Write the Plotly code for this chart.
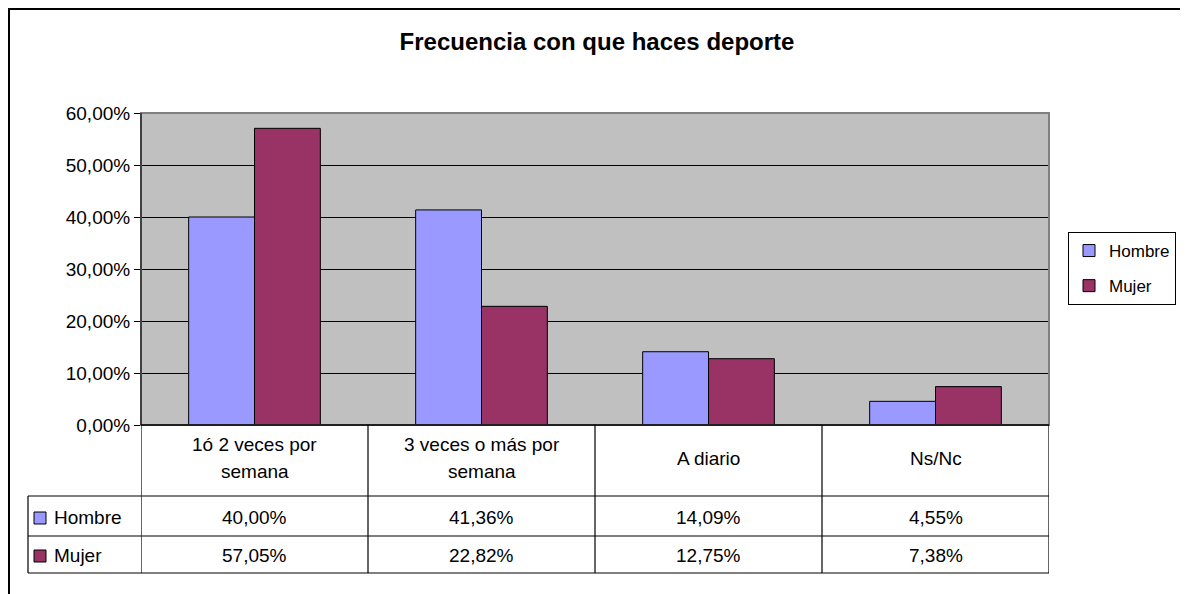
import plotly.graph_objects as go

categories = ["1ó 2 veces por\nsemana", "3 veces o más por\nsemana", "A diario", "Ns/Nc"]
series_names = ["Hombre", "Mujer"]
hombre = [0.4000, 0.4136, 0.1409, 0.0455]
mujer = [0.5705, 0.2282, 0.1275, 0.0738]
colors = ["#9999FF", "#993366"]
y_ticks = [0, 0.1, 0.2, 0.3, 0.4, 0.5, 0.6]

FONT = "Liberation Sans, Arial, sans-serif"
FS = 19
OFF = 8  # page body margin
W, H = 1188 - OFF, 594 - OFF
L, R, T, B = 141 - OFF, 1049 - OFF, 113 - OFF, 425 - OFF  # plot area pixels


def px(xpix):
    return (xpix - OFF - L) / (R - L)


def py(ypix):
    return (B - (ypix - OFF)) / (B - T)


xs = list(range(len(categories)))
values = [hombre, mujer]

fig = go.Figure()
for name, vals, col in zip(series_names, values, colors):
    fig.add_trace(go.Bar(
        x=xs, y=vals, name=name, legendgroup=name,
        marker=dict(color=col, line=dict(color="black", width=1)),
    ))

shapes = []
annotations = []

# outer frame (left + top edges)
shapes.append(dict(type="rect", xref="paper", yref="paper",
                   x0=px(OFF + 1), x1=px(1400), y0=py(800), y1=py(OFF + 1),
                   line=dict(color="black", width=2), layer="below"))
# plot area border
shapes.append(dict(type="rect", xref="paper", yref="paper",
                   x0=0, x1=1, y0=0, y1=1,
                   line=dict(color="#808080", width=2), layer="above"))
shapes.append(dict(type="line", xref="paper", yref="paper",
                   x0=0, x1=0, y0=0, y1=1,
                   line=dict(color="#404040", width=2), layer="above"))

# data table lines
shapes.append(dict(type="line", xref="paper", yref="paper",
                   x0=0, x1=1, y0=0, y1=0,
                   line=dict(color="black", width=1.5)))
row_lines = [496, 536, 573]
for yp in row_lines:
    shapes.append(dict(type="line", xref="paper", yref="paper",
                       x0=px(28), x1=1, y0=py(yp), y1=py(yp),
                       line=dict(color="black", width=1.2)))
for i in range(len(categories) + 1):
    shapes.append(dict(type="line", xref="x", yref="paper",
                       x0=i - 0.5, x1=i - 0.5, y0=0, y1=py(573),
                       line=dict(color="black", width=1.2)))
shapes.append(dict(type="line", xref="paper", yref="paper",
                   x0=px(28), x1=px(28), y0=py(496), y1=py(573),
                   line=dict(color="black", width=1.2)))

# category headers
for i, cat in enumerate(categories):
    lines = cat.split("\n")
    if len(lines) == 1:
        centers = [458]
    else:
        centers = [444, 471]
    for ln, cy in zip(lines, centers):
        annotations.append(dict(xref="x", yref="paper", x=i, y=py(cy),
                                text=ln, showarrow=False, xanchor="center",
                                yanchor="middle",
                                font=dict(family=FONT, size=FS, color="black")))

# value rows
row_centers = [517, 555]
for name, vals, col, cy in zip(series_names, values, colors, row_centers):
    shapes.append(dict(type="rect", xref="paper", yref="paper",
                       x0=px(34), x1=px(46), y0=py(cy + 7), y1=py(cy - 5),
                       fillcolor=col, line=dict(color="black", width=1)))
    annotations.append(dict(xref="paper", yref="paper", x=px(52), y=py(cy),
                            text=name, showarrow=False, xanchor="left",
                            yanchor="middle",
                            font=dict(family=FONT, size=FS, color="black")))
    for i, v in enumerate(vals):
        txt = f"{v * 100:.2f}%".replace(".", ",")
        annotations.append(dict(xref="x", yref="paper", x=i, y=py(cy),
                                text=txt, showarrow=False, xanchor="center",
                                yanchor="middle",
                                font=dict(family=FONT, size=FS, color="black")))

fig.update_layout(
    width=W, height=H,
    margin=dict(l=L, r=W - R, t=T, b=H - B, pad=0, autoexpand=False),
    paper_bgcolor="white",
    plot_bgcolor="#C0C0C0",
    separators=",.",
    barmode="group",
    bargap=0.42,
    bargroupgap=0,
    font=dict(family=FONT, size=FS, color="black"),
    title=dict(text="<b>Frecuencia con que haces deporte</b>",
               x=(597 - OFF) / W, xanchor="center",
               y=1 - (42 - OFF) / H, yanchor="middle", yref="container",
               xref="container",
               font=dict(family=FONT, size=24, color="black")),
    xaxis=dict(range=[-0.5, len(categories) - 0.5], showticklabels=False,
               showgrid=False, zeroline=False, showline=False, ticks=""),
    yaxis=dict(range=[0, 0.6], tickvals=y_ticks, tickformat=".2%",
               showgrid=True, gridcolor="black", gridwidth=1,
               zeroline=True, zerolinecolor="black", zerolinewidth=1,
               ticks="outside", ticklen=6, tickcolor="black",
               tickfont=dict(family=FONT, size=FS, color="black"),
               showline=False, automargin=False),
    legend=dict(xref="container", yref="container",
                x=(1068 - OFF) / W, y=1 - (232 - OFF) / H,
                xanchor="left", yanchor="top",
                bgcolor="white", bordercolor="black", borderwidth=1,
                font=dict(family=FONT, size=17, color="black"),
                itemwidth=30, tracegroupgap=10),
    shapes=shapes,
    annotations=annotations,
)

fig.write_html("out.html")
